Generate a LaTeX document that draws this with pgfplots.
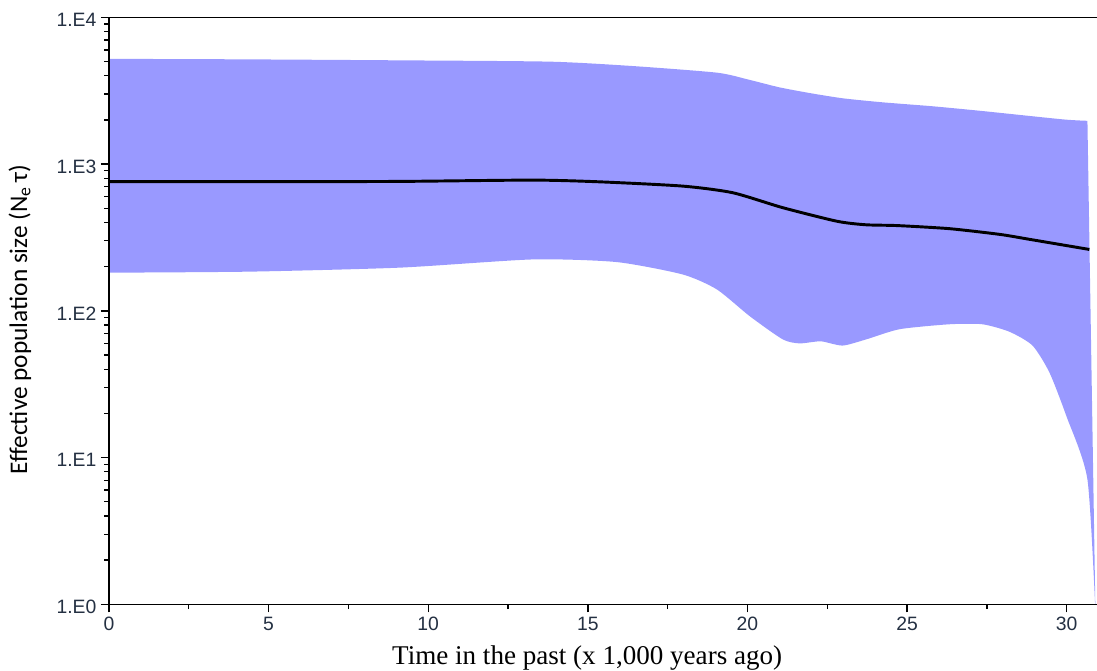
\documentclass[border=0pt]{standalone}
\usepackage{fontspec}
\setmainfont{Liberation Sans}
\newfontfamily\serifx{Liberation Serif}
\newfontfamily\cali{Carlito}
\usepackage{pgfplots}
\pgfplotsset{compat=1.18}
\usepgfplotslibrary{fillbetween}
\definecolor{band}{HTML}{9999FF}
\definecolor{tickc}{HTML}{243042}

% 95% HPD upper bound
\pgfplotstableread{
x y
0     5212
4     5176
9.11  5093
13.81 4989
16.41 4656
19.04 4198
20.0  3780
21.0  3334
22.0  3035
23.0  2805
24.23 2636
25.8  2477
27.36 2299
29.87 2018
30.65 1972
}\uptab

% median
\pgfplotstableread{
x y
0     759
5     759
9.11  762
13.27 778
15.37 757
17.97 708
19.54 638
21.10 505
22.8  408
23.7  386
24.7  381
26.33 363
27.90 332
28.84 307
30.71 262
}\medtab

% 95% HPD lower bound
\pgfplotstableread{
x y
0     182
4.41  185
9.11  197
13.27 224
15.90 215
17.97 177
19.04 140
20.07 92
21.10 64
21.63 60
22.3  62
22.98 58
23.73 64
24.77 75
26.33 81
27.36 81
28.21 72
28.93 58
29.46 38
29.99 19.2
30.65 7.1
30.90 0.9
}\lowtab

\begin{document}
\begin{tikzpicture}
\begin{axis}[
    name=ax,
    scale only axis,
    width=741pt, height=440.25pt,
    xmin=0, xmax=30.95,
    ymode=log, ymin=1, ymax=10000,
    axis lines*=left,
    axis on top,
    axis line style={line width=1.2pt},
    tick style={black, line width=1pt},
    tick align=outside,
    major tick length=6pt,
    minor tick length=3.5pt,
    xtick={0,5,...,30},
    minor x tick num=1,
    ytick={1,10,100,1000,10000},
    yticklabels={1.E0,1.E1,1.E2,1.E3,1.E4},
    /pgf/number format/assume math mode=true,
    ticklabel style={font=\fontsize{14.5}{16}\selectfont, text=tickc},
    yticklabel style={yshift=-2pt},
    xlabel={Time in the past (x 1,000 years ago)},
    xlabel style={font=\serifx\fontsize{20.3}{24}\selectfont,
        at={(axis description cs:0.484,0)}, anchor=base, yshift=-45pt},
    ylabel={Effective population size (N\textsubscript{e}\,τ)},
    ylabel style={font=\cali\fontsize{19}{22}\selectfont,
        at={(axis description cs:-0.083,0.485)}, anchor=base},
]
\addplot[name path=up, draw=none, smooth, tension=0.4] table {\uptab};
\addplot[name path=lo, draw=none, smooth, tension=0.4] table {\lowtab};
\addplot[fill=band, draw=none] fill between[of=up and lo];
\addplot[black, line width=2.2pt, smooth, tension=0.4] table {\medtab};
\end{axis}
\draw[line width=1.2pt] (ax.north west) -- (ax.north east);
\pgfresetboundingbox
\path[use as bounding box] ([xshift=-81.75pt, yshift=-49.5pt]ax.south west)
    rectangle ([yshift=13pt]ax.north east);
\end{tikzpicture}
\end{document}
